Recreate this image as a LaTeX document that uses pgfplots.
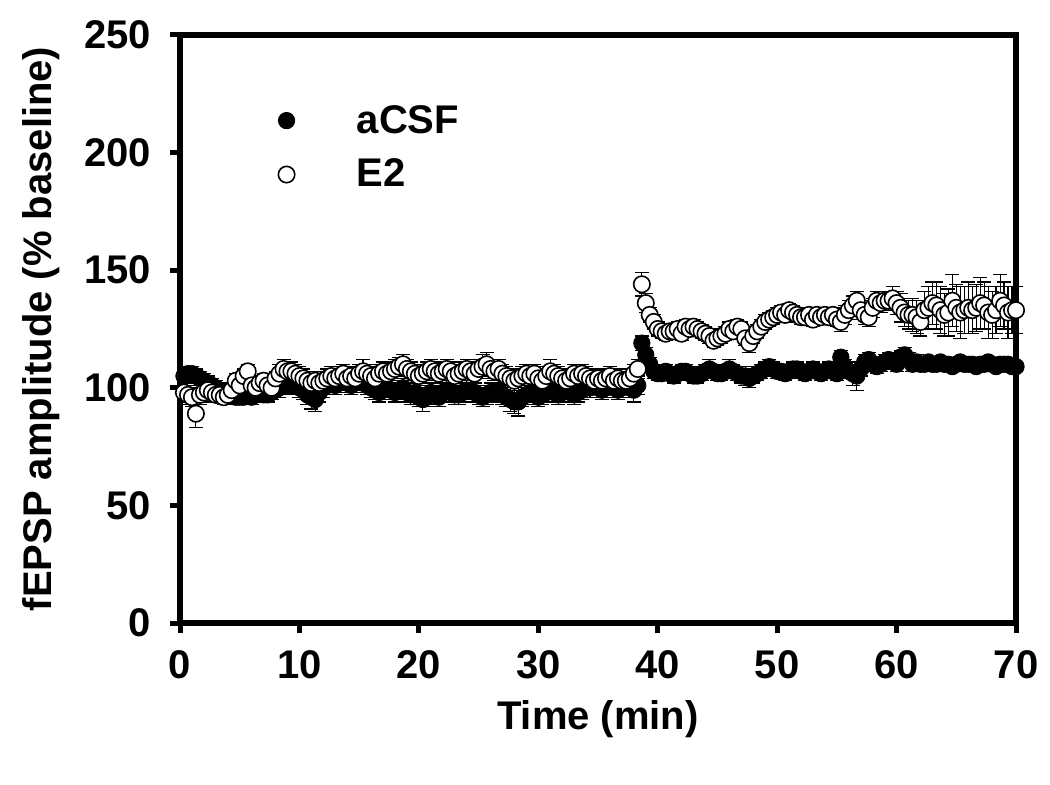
\documentclass[border=0pt]{standalone}
\usepackage{fontspec}
\setmainfont{Liberation Sans}
\usepackage{pgfplots}
\usepackage{pgfplotstable}
\pgfplotsset{compat=1.18}

% time (min), amplitude (% baseline), SEM
\pgfplotstableread[row sep=\\]{
x y e\\
0.33 105 3\\ 0.67 106 3\\ 1.00 106 3\\
1.33 105 3\\ 1.67 104 3\\ 2.00 103 3\\
2.33 102 3\\ 2.67 101 3\\ 3.00 100 3\\
3.33 99 3\\ 3.67 98 3\\ 4.00 97 3\\
4.33 97 3\\ 4.67 96 3\\ 5.00 96 3\\
5.33 96 3\\ 5.67 97 3\\ 6.00 96 3\\
6.33 97 3\\ 6.67 98 3\\ 7.00 97 3\\
7.33 97 3\\ 7.67 98 3\\ 8.00 99 3\\
8.33 100 4\\ 8.67 101 4\\ 9.00 101 4\\
9.33 101 4\\ 9.67 102 4\\ 10.00 100 4\\
10.33 99 4\\ 10.67 97 4\\ 11.00 96 5\\
11.33 95 5\\ 11.67 98 4\\ 12.00 100 4\\
12.33 101 4\\ 12.67 102 4\\ 13.00 101 4\\
13.33 102 4\\ 13.67 103 4\\ 14.00 102 4\\
14.33 101 4\\ 14.67 102 4\\ 15.00 103 4\\
15.33 102 4\\ 15.67 101 4\\ 16.00 100 4\\
16.33 99 4\\ 16.67 98 4\\ 17.00 99 4\\
17.33 100 4\\ 17.67 99 4\\ 18.00 98 4\\
18.33 99 4\\ 18.67 100 4\\ 19.00 98 4\\
19.33 97 4\\ 19.67 98 4\\ 20.00 96 4\\
20.33 95 5\\ 20.67 96 4\\ 21.00 98 4\\
21.33 97 4\\ 21.67 96 4\\ 22.00 98 4\\
22.33 99 4\\ 22.67 98 4\\ 23.00 97 4\\
23.33 97 4\\ 23.67 98 4\\ 24.00 99 4\\
24.33 99 4\\ 24.67 98 4\\ 25.00 97 4\\
25.33 96 4\\ 25.67 97 4\\ 26.00 98 4\\
26.33 98 4\\ 26.67 99 4\\ 27.00 97 4\\
27.33 96 4\\ 27.67 95 5\\ 28.00 94 5\\
28.33 94 6\\ 28.67 96 4\\ 29.00 97 4\\
29.33 98 4\\ 29.67 97 4\\ 30.00 96 4\\
30.33 97 4\\ 30.67 98 4\\ 31.00 99 4\\
31.33 98 4\\ 31.67 97 4\\ 32.00 98 4\\
32.33 99 4\\ 32.67 98 4\\ 33.00 97 4\\
33.33 98 4\\ 33.67 99 4\\ 34.00 100 4\\
34.33 100 4\\ 34.67 101 4\\ 35.00 100 4\\
35.33 99 4\\ 35.67 100 4\\ 36.00 101 4\\
36.33 100 4\\ 36.67 99 4\\ 37.00 100 4\\
37.33 101 4\\ 37.67 100 4\\ 38.00 99 5\\
38.33 101 4\\ 38.67 119 3\\ 39.00 114 3\\
39.33 110 3\\ 39.67 107 3\\ 40.00 106 3\\
40.33 106 3\\ 40.67 107 3\\ 41.00 106 3\\
41.33 105 3\\ 41.67 106 3\\ 42.00 107 3\\
42.33 107 3\\ 42.67 106 3\\ 43.00 105 3\\
43.33 105 3\\ 43.67 106 3\\ 44.00 107 3\\
44.33 108 4\\ 44.67 107 3\\ 45.00 106 3\\
45.33 106 3\\ 45.67 107 3\\ 46.00 108 4\\
46.33 107 3\\ 46.67 106 3\\ 47.00 105 3\\
47.33 105 4\\ 47.67 104 4\\ 48.00 105 3\\
48.33 106 3\\ 48.67 107 3\\ 49.00 108 3\\
49.33 109 3\\ 49.67 108 3\\ 50.00 107 3\\
50.33 107 3\\ 50.67 106 3\\ 51.00 107 3\\
51.33 108 3\\ 51.67 108 3\\ 52.00 107 3\\
52.33 106 3\\ 52.67 107 3\\ 53.00 108 3\\
53.33 107 3\\ 53.67 106 3\\ 54.00 107 3\\
54.33 108 3\\ 54.67 107 3\\ 55.00 106 3\\
55.33 113 3\\ 55.67 109 3\\ 56.00 107 3\\
56.33 106 5\\ 56.67 105 6\\ 57.00 108 3\\
57.33 111 3\\ 57.67 112 3\\ 58.00 110 3\\
58.33 109 3\\ 58.67 110 3\\ 59.00 111 3\\
59.33 112 3\\ 59.67 111 3\\ 60.00 110 3\\
60.33 113 3\\ 60.67 114 3\\ 61.00 112 3\\
61.33 110 3\\ 61.67 111 3\\ 62.00 110 3\\
62.33 110 2\\ 62.67 111 2\\ 63.00 110 2\\
63.33 110 2\\ 63.67 111 2\\ 64.00 110 2\\
64.33 110 2\\ 64.67 109 2\\ 65.00 110 2\\
65.33 111 2\\ 65.67 110 2\\ 66.00 110 2\\
66.33 110 2\\ 66.67 109 2\\ 67.00 110 2\\
67.33 110 2\\ 67.67 111 2\\ 68.00 110 2\\
68.33 109 2\\ 68.67 110 2\\ 69.00 110 2\\
69.33 110 2\\ 69.67 109 2\\ 70.00 109 2\\
}\acsf

\pgfplotstableread[row sep=\\]{
x y e\\
0.33 98 4\\ 0.67 97 4\\ 1.00 96 4\\
1.33 89 6\\ 1.67 97 4\\ 2.00 98 4\\
2.33 99 3\\ 2.67 98 3\\ 3.00 97 3\\
3.33 97 3\\ 3.67 96 3\\ 4.00 97 3\\
4.33 99 3\\ 4.67 103 3\\ 5.00 101 3\\
5.33 105 3\\ 5.67 107 3\\ 6.00 101 3\\
6.33 100 3\\ 6.67 102 3\\ 7.00 103 3\\
7.33 101 3\\ 7.67 100 3\\ 8.00 104 3\\
8.33 106 4\\ 8.67 108 4\\ 9.00 107 4\\
9.33 107 4\\ 9.67 106 4\\ 10.00 105 4\\
10.33 104 4\\ 10.67 103 4\\ 11.00 102 4\\
11.33 103 4\\ 11.67 102 4\\ 12.00 103 4\\
12.33 104 4\\ 12.67 105 4\\ 13.00 104 4\\
13.33 105 4\\ 13.67 106 4\\ 14.00 104 4\\
14.33 105 4\\ 14.67 104 4\\ 15.00 106 4\\
15.33 107 5\\ 15.67 106 4\\ 16.00 105 4\\
16.33 104 4\\ 16.67 106 4\\ 17.00 107 4\\
17.33 106 4\\ 17.67 107 4\\ 18.00 108 4\\
18.33 109 4\\ 18.67 110 4\\ 19.00 108 4\\
19.33 107 4\\ 19.67 106 4\\ 20.00 105 4\\
20.33 106 4\\ 20.67 107 4\\ 21.00 108 4\\
21.33 107 4\\ 21.67 106 4\\ 22.00 107 4\\
22.33 108 4\\ 22.67 107 4\\ 23.00 105 4\\
23.33 106 4\\ 23.67 107 4\\ 24.00 108 4\\
24.33 107 4\\ 24.67 106 4\\ 25.00 108 4\\
25.33 109 5\\ 25.67 110 5\\ 26.00 108 4\\
26.33 107 4\\ 26.67 108 4\\ 27.00 106 4\\
27.33 105 4\\ 27.67 104 4\\ 28.00 103 4\\
28.33 104 4\\ 28.67 105 4\\ 29.00 106 4\\
29.33 105 4\\ 29.67 106 4\\ 30.00 104 4\\
30.33 103 4\\ 30.67 105 4\\ 31.00 107 5\\
31.33 106 4\\ 31.67 105 4\\ 32.00 104 4\\
32.33 103 4\\ 32.67 104 4\\ 33.00 106 4\\
33.33 105 4\\ 33.67 106 4\\ 34.00 105 4\\
34.33 104 4\\ 34.67 103 4\\ 35.00 104 4\\
35.33 103 4\\ 35.67 104 4\\ 36.00 105 4\\
36.33 103 4\\ 36.67 104 4\\ 37.00 103 4\\
37.33 103 4\\ 37.67 104 4\\ 38.00 106 4\\
38.33 108 4\\ 38.67 144 5\\ 39.00 136 4\\
39.33 131 3\\ 39.67 128 3\\ 40.00 125 3\\
40.33 124 3\\ 40.67 123 3\\ 41.00 124 3\\
41.33 124 3\\ 41.67 125 3\\ 42.00 123 3\\
42.33 126 3\\ 42.67 125 3\\ 43.00 126 3\\
43.33 125 3\\ 43.67 124 3\\ 44.00 123 3\\
44.33 122 3\\ 44.67 120 3\\ 45.00 121 3\\
45.33 122 3\\ 45.67 123 3\\ 46.00 125 3\\
46.33 124 3\\ 46.67 126 3\\ 47.00 125 3\\
47.33 121 3\\ 47.67 119 4\\ 48.00 122 3\\
48.33 124 3\\ 48.67 126 3\\ 49.00 128 3\\
49.33 129 3\\ 49.67 130 3\\ 50.00 131 3\\
50.33 132 3\\ 50.67 131 3\\ 51.00 133 3\\
51.33 132 3\\ 51.67 131 3\\ 52.00 130 3\\
52.33 130 3\\ 52.67 131 3\\ 53.00 129 3\\
53.33 131 3\\ 53.67 130 3\\ 54.00 131 3\\
54.33 130 3\\ 54.67 131 3\\ 55.00 129 3\\
55.33 128 4\\ 55.67 131 4\\ 56.00 133 4\\
56.33 135 4\\ 56.67 137 4\\ 57.00 133 4\\
57.33 131 4\\ 57.67 130 4\\ 58.00 134 4\\
58.33 137 4\\ 58.67 136 4\\ 59.00 137 4\\
59.33 137 4\\ 59.67 138 5\\ 60.00 136 5\\
60.33 134 6\\ 60.67 132 6\\ 61.00 131 6\\
61.33 131 7\\ 61.67 130 7\\ 62.00 128 6\\
62.33 133 8\\ 62.67 134 9\\ 63.00 136 9\\
63.33 135 10\\ 63.67 133 10\\ 64.00 131 9\\
64.33 132 10\\ 64.67 137 11\\ 65.00 134 10\\
65.33 132 11\\ 65.67 133 10\\ 66.00 134 11\\
66.33 133 10\\ 66.67 134 10\\ 67.00 136 11\\
67.33 135 10\\ 67.67 132 11\\ 68.00 131 10\\
68.33 133 10\\ 68.67 137 11\\ 69.00 135 10\\
69.33 132 11\\ 69.67 133 10\\ 70.00 133 10\\
}\etwo

\begin{document}
\begin{tikzpicture}
\begin{axis}[
    scale only axis,
    width=418pt, height=294pt,
    xmin=0, xmax=70, ymin=0, ymax=250,
    xtick={0,10,...,70}, ytick={0,50,...,250},
    xtick pos=bottom, ytick pos=left,
    tick align=outside,
    major tick length=5pt,
    axis line style={line width=3pt},
    tick style={black, line width=2.5pt},
    /pgf/number format/assume math mode=true,
    tick label style={font=\bfseries\fontsize{20}{24}\selectfont},
    xticklabel style={yshift=-5pt},
    yticklabel style={xshift=-6pt},
    label style={font=\bfseries\fontsize{20}{24}\selectfont},
    xlabel={Time (min)},
    ylabel={fEPSP amplitude (\% baseline)},
    xlabel style={at={(axis description cs:0.5,0)}, anchor=center, yshift=-48pt},
    ylabel style={at={(axis description cs:-0.166,0.5)}, anchor=center},
    clip=false,
    legend style={at={(0.11,0.895)}, anchor=north west, draw=none, fill=none,
        font=\bfseries\fontsize{20}{24}\selectfont, row sep=7.5pt, column sep=29pt},
    legend cell align=left,
]
\addplot[only marks, mark=*, mark size=4.1pt, draw=black, fill=black,
    error bars/.cd, y dir=both, y explicit,
    error bar style={line width=0.6pt, black},
    error mark options={mark size=3.5pt, line width=0.6pt, black, rotate=90}]
    table[x=x, y=y, y error=e] {\acsf};
\addlegendentry{aCSF}
\addplot[only marks, mark=*, mark size=4.1pt, draw=black, fill=white, line width=0.8pt,
    error bars/.cd, y dir=both, y explicit,
    error bar style={line width=0.6pt, black},
    error mark options={mark size=3.5pt, line width=0.6pt, black, rotate=90}]
    table[x=x, y=y, y error=e] {\etwo};
\addlegendentry{E2}
\end{axis}
\pgfresetboundingbox
\path ([shift={(-90pt,-80.75pt)}]current axis.south west) rectangle ([shift={(17pt,17.5pt)}]current axis.north east);
\end{tikzpicture}
\end{document}
